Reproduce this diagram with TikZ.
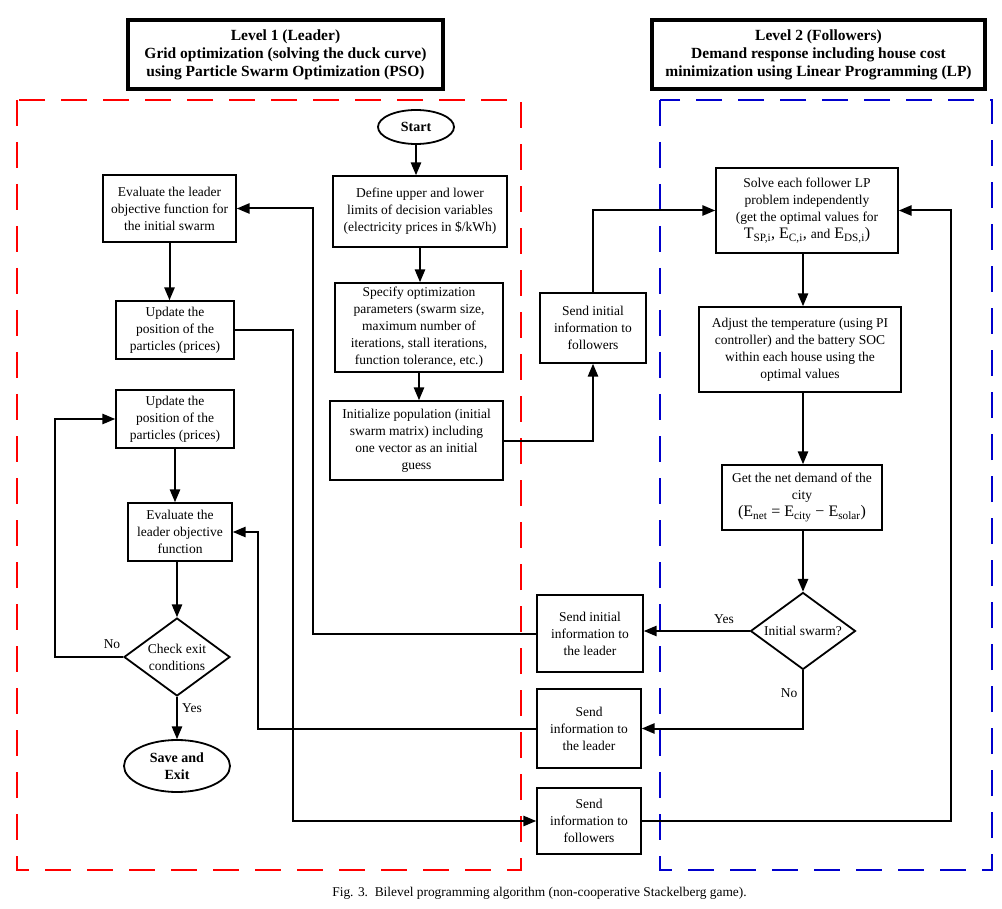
\documentclass[tikz,border=0pt]{standalone}
\usepackage{fontspec}
\setmainfont{Liberation Serif}
\usetikzlibrary{arrows,shapes.geometric}

\begin{document}
\begin{tikzpicture}[x=1pt,y=-1pt,->,>=triangle 45,line width=2pt,
    font=\fontsize{13.5}{17}\selectfont,
    proc node/.style={draw,rectangle,align=center,inner sep=0pt,line width=1.8pt},
    term node/.style={draw,ellipse,align=center,inner sep=0pt,line width=1.8pt,font=\fontsize{14}{17}\selectfont\bfseries},
    test node/.style={draw,diamond,inner sep=0pt,line width=1.8pt},
    head node/.style={draw,rectangle,align=center,inner sep=0pt,line width=3.5pt,font=\fontsize{15.5}{18}\selectfont\bfseries},
    zone/.style={-,line width=2.2pt,dash pattern=on 26pt off 16pt}]
    \useasboundingbox (0,0) rectangle (1002,909);

    % the two levels
    \node[head node,minimum width=315,minimum height=69] (lead) at (285.5,54.5) {Level 1 (Leader)\\Grid optimization (solving the duck curve)\\using Particle Swarm Optimization (PSO)};
    \node[head node,minimum width=333,minimum height=69] (foll) at (818.5,54.5) {Level 2 (Followers)\\Demand response including house cost\\minimization using Linear Programming (LP)};
    \draw[zone,red] (17,100) rectangle (521,870);
    \draw[zone,blue!80!black] (660,100) rectangle (992,870);

    % leader side
    \node[term node,minimum width=76,minimum height=34] (start) at (416,127) {Start};
    \node[proc node,minimum width=174,minimum height=71] (define) at (420,211.5) {Define upper and lower\\limits of decision variables\\(electricity prices in \$/kWh)};
    \node[proc node,minimum width=168,minimum height=89] (specify) at (419,327.5) {Specify optimization\\parameters (swarm size,\\maximum number of\\iterations, stall iterations,\\function tolerance, etc.)};
    \node[proc node,minimum width=173,minimum height=79] (init) at (416.5,440.5) {Initialize population (initial\\swarm matrix) including\\one vector as an initial\\guess};
    \node[proc node,minimum width=106,minimum height=70] (sendfi) at (593,328) {Send initial\\information to\\followers};
    \node[proc node,minimum width=133,minimum height=67] (evalinit) at (169.5,208.5) {Evaluate the leader\\objective function for\\the initial swarm};
    \node[proc node,minimum width=118,minimum height=58] (upda) at (175,330) {Update the\\position of the\\particles (prices)};
    \node[proc node,minimum width=118,minimum height=58] (updb) at (175,419) {Update the\\position of the\\particles (prices)};
    \node[proc node,minimum width=104,minimum height=58] (evalobj) at (180,532) {Evaluate the\\leader objective\\function};
    \node[test node,minimum width=106,minimum height=78,label={[align=center]center:{Check exit\\conditions}}] (check) at (177,657) {};
    \node[term node,minimum width=106,minimum height=52] (save) at (177,766) {Save and\\Exit};

    % follower side
    \node[proc node,minimum width=182,minimum height=85] (solve) at (807,210.5) {Solve each follower LP\\problem independently\\(get the optimal values for\\{\fontsize{16}{19}\selectfont T\textsubscript{SP,i}, E\textsubscript{C,i}, {\fontsize{13.5}{17}\selectfont and} E\textsubscript{DS,i})}};
    \node[proc node,minimum width=202,minimum height=85] (adjust) at (800,349.5) {Adjust the temperature (using PI\\controller) and the battery SOC\\within each house using the\\optimal values};
    \node[proc node,minimum width=160,minimum height=65] (netd) at (802,497.5) {Get the net demand of the\\city\\{\fontsize{16}{19}\selectfont (E\textsubscript{net} = E\textsubscript{city} − E\textsubscript{solar})}};
    \node[test node,minimum width=105,minimum height=77,label={center:Initial swarm?}] (initial) at (803,631) {};
    \node[proc node,minimum width=106,minimum height=77] (sendli) at (590,633.5) {Send initial\\information to\\the leader};
    \node[proc node,minimum width=104,minimum height=79] (sendl) at (589,728.5) {Send\\information to\\the leader};
    \node[proc node,minimum width=104,minimum height=66] (sendf) at (589,821) {Send\\information to\\followers};

    \coordinate (rx) at (803,0);
    \coordinate (cup) at (313,0);
    \coordinate (cdown) at (293,0);
    \coordinate (cright) at (951,0);
    \coordinate (cback) at (258,0);
    \coordinate (cno) at (55,0);

    % connectors
    \draw (start) -- (start |- define.north);
    \draw (define) -- (define |- specify.north);
    \draw (specify) -- (specify |- init.north);
    \draw (init.east) -| (sendfi.south);
    \draw (sendfi.north) |- (solve.west);
    \draw (solve.south -| rx) -- (adjust.north -| rx);
    \draw (adjust.south -| rx) -- (netd.north -| rx);
    \draw (netd.south -| rx) -- (initial.north);
    \draw (initial.west) -- (initial.west -| sendli.east);
    \draw (initial.south) |- (sendl.east);
    \draw (sendli.west) -| (evalinit.east -| cup) -- (evalinit.east);
    \draw (evalinit) -- (evalinit |- upda.north);
    \draw (upda.east) -| (sendf.west -| cdown) -- (sendf.west);
    \draw (sendf.east) -| (solve.east -| cright) -- (solve.east);
    \draw (sendl.west) -| (evalobj.east -| cback) -- (evalobj.east);
    \draw (updb) -- (updb |- evalobj.north);
    \draw (evalobj.south -| check) -- (check.north);
    \draw (check.west) -| (updb.west -| cno) -- (updb.west);
    \draw (check) -- (save);

    % labels
    \node (yesr) at (724,619) {Yes};
    \node (nor) at (789,693) {No};
    \node (nol) at (112,644) {No};
    \node (yesl) at (192,708) {Yes};
    \node[font=\fontsize{13.4}{15}\selectfont] (cap) at (539.5,893) {Fig. 3.\ \ Bilevel programming algorithm (non-cooperative Stackelberg game).};
\end{tikzpicture}
\end{document}
